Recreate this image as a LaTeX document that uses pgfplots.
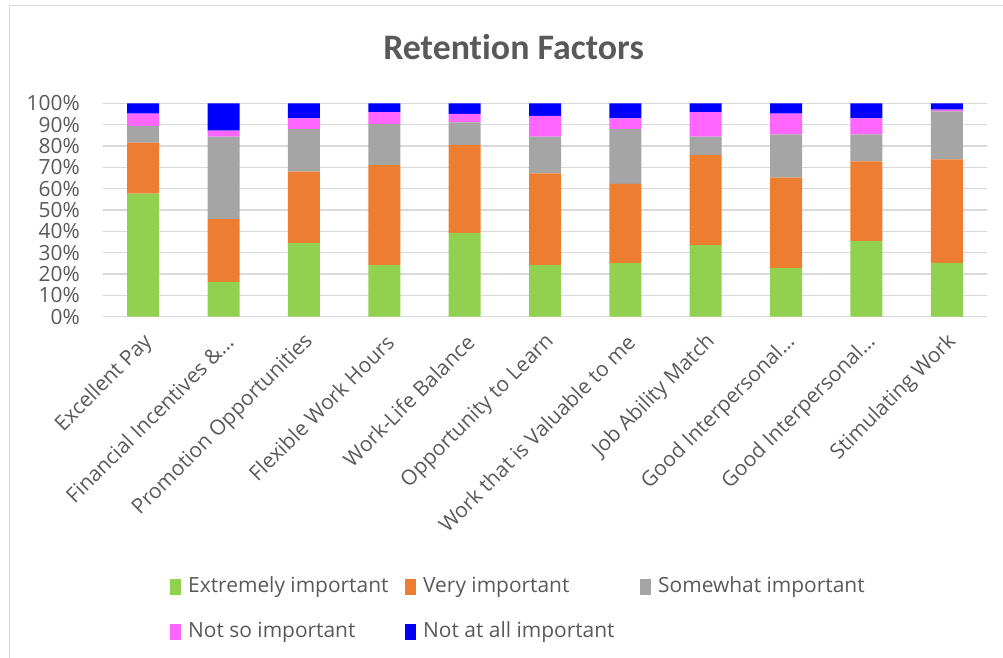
\documentclass[border=0pt]{standalone}
\usepackage{pgfplots}
\pgfplotsset{compat=1.18}
\usepackage{fontspec}
\setmainfont{Open Sans}
\newfontfamily\titlefont[Ligatures=NoCommon]{Carlito}
\definecolor{cgreen}{HTML}{92D050}
\definecolor{corange}{HTML}{ED7D31}
\definecolor{cgray}{HTML}{A5A5A5}
\definecolor{cpink}{HTML}{FF66FF}
\definecolor{cblue}{HTML}{0000FF}
\definecolor{txt}{HTML}{595959}
\definecolor{gridc}{HTML}{D9D9D9}
\pgfplotsset{lgsq/.style={legend image code/.code={\fill[##1] (0bp,-8bp) rectangle (11bp,8bp);}}}
\pgfplotstableread{
x ext very some notso notall
0 57.7 23.9 7.9 5.7 4.8
1 16.3 29.5 38.7 2.8 12.7
2 34.5 33.6 20.0 4.9 7.0
3 24.2 46.9 19.2 5.6 4.1
4 39.2 41.4 10.6 3.9 4.9
5 24.2 43.0 17.3 9.7 5.8
6 25.2 37.1 25.8 4.9 7.0
7 33.6 42.3 8.6 11.4 4.1
8 22.8 42.4 20.3 9.7 4.8
9 35.5 37.3 12.7 7.5 7.0
10 25.2 48.6 22.5 0.8 2.9
}\datatable
\begin{document}
\begin{tikzpicture}
\useasboundingbox (0,0) rectangle (1003bp,658bp);
\draw[gridc, line width=1.2bp] (9.5bp,0) -- (9.5bp,652.5bp) -- (1003bp,652.5bp);
\node[font=\titlefont\bfseries\fontsize{36}{42}\selectfont, text=txt, anchor=base, inner sep=0pt] at (513.5bp,598bp) {Retention Factors};
\begin{axis}[
  at={(103bp,341.3bp)}, anchor=south west,
  width=884bp, height=213.2bp, scale only axis,
  ybar stacked, bar width=32bp,
  xmin=-0.5, xmax=10.5, ymin=0, ymax=100,
  xtick={0,...,10},
  xticklabels={Excellent Pay, Financial Incentives \&…, Promotion Opportunities, Flexible Work Hours, Work-Life Balance, Opportunity to Learn, Work that is Valuable to me, Job Ability Match, Good Interpersonal…, Good Interpersonal…, Stimulating Work},
  ytick={0,10,...,100},
  yticklabel={\pgfmathprintnumber{\tick}\%},
  /pgf/number format/assume math mode=true,
  major tick length=0pt,
  axis line style={draw=none},
  ymajorgrids, grid style={gridc, line width=1.3bp},
  tick label style={font=\fontsize{21}{24}\selectfont, text=txt},
  yticklabel style={anchor=east, inner sep=0pt, xshift=-23bp},
  xticklabel style={inner sep=0pt, xshift=6bp, yshift=-22bp, rotate=45, anchor=east},
  legend columns=3,
  legend style={draw=none, fill=none, inner sep=0pt, at={(0.0758,-1.2185)}, anchor=north west,
    font=\fontsize{21}{24}\selectfont, text=txt,
    nodes={inner sep=0pt, text height=15.5bp, text depth=5.5bp},
    cells={anchor=west}, row sep=24bp,
    /tikz/every odd column/.append style={column sep=7bp}},
]
\addplot[fill=cgreen, draw=none, lgsq] table[x=x, y=ext] {\datatable};
\addlegendentry{\makebox[217bp][l]{Extremely important}}
\addplot[fill=corange, draw=none, lgsq] table[x=x, y=very] {\datatable};
\addlegendentry{\makebox[217bp][l]{Very important}}
\addplot[fill=cgray, draw=none, lgsq] table[x=x, y=some] {\datatable};
\addlegendentry{\makebox[217bp][l]{Somewhat important}}
\addplot[fill=cpink, draw=none, lgsq] table[x=x, y=notso] {\datatable};
\addlegendentry{\makebox[217bp][l]{Not so important}}
\addplot[fill=cblue, draw=none, lgsq] table[x=x, y=notall] {\datatable};
\addlegendentry{\makebox[217bp][l]{Not at all important}}
\end{axis}
\end{tikzpicture}
\end{document}
